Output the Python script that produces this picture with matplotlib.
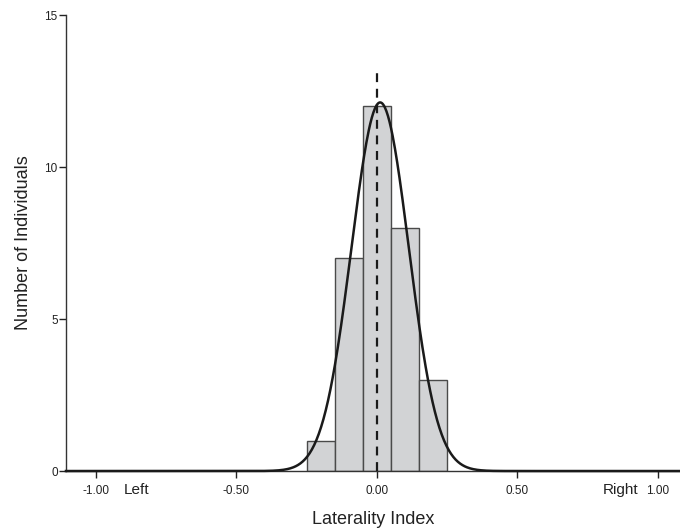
import numpy as np
import matplotlib
matplotlib.use("Agg")
import matplotlib.pyplot as plt

plt.rcParams['font.family'] = ['Liberation Sans', 'DejaVu Sans']

bin_edges = [-0.25, -0.15, -0.05, 0.05, 0.15, 0.25]
counts = [1, 7, 12, 8, 3]
curve_mean = 0.012
curve_sd = 0.102
x_ticks = [-1.0, -0.5, 0.0, 0.5, 1.0]
x_tick_labels = ["-1.00", "-0.50", "0.00", "0.50", "1.00"]
y_ticks = [0, 5, 10, 15]
side_labels = [("Left", -0.855), ("Right", 0.87)]
ref_line_top = 13.2

fig = plt.figure(figsize=(6.8, 5.29), dpi=100)
ax = fig.add_axes([0.097, 0.1096, 0.903, 0.862])

edges = np.array(bin_edges)
widths = np.diff(edges)
ax.bar(edges[:-1], counts, width=widths, align='edge', color='#d2d3d5',
       edgecolor='#4a4a4a', linewidth=1.0, zorder=2)

n = sum(counts)
bw = widths[0]
xs = np.linspace(-1.107, 1.08, 800)
ys = n * bw / (curve_sd * np.sqrt(2 * np.pi)) * np.exp(-0.5 * ((xs - curve_mean) / curve_sd) ** 2)
ax.plot(xs, ys, color='#1a1a1a', linewidth=1.8, zorder=4, clip_on=False)

ax.plot([0, 0], [0, ref_line_top], color='#1a1a1a', linestyle=(0, (4, 3)), linewidth=1.6, zorder=5)

ax.set_xlim(-1.107, 1.08)
ax.set_ylim(0, 15)
ax.set_xticks(x_ticks)
ax.set_xticklabels(x_tick_labels, fontsize=8.5)
ax.set_yticks(y_ticks)
ax.set_yticklabels([str(v) for v in y_ticks], fontsize=8.5)
ax.tick_params(axis='x', direction='out', length=5, width=1, pad=5, colors='#222222')
ax.tick_params(axis='y', direction='out', length=5, width=1, pad=1, colors='#222222')
for s in ['top', 'right']:
    ax.spines[s].set_visible(False)
for s in ['left', 'bottom']:
    ax.spines[s].set_color('#333333')
    ax.spines[s].set_linewidth(1.0)

for txt, xv in side_labels:
    ax.text(xv, -0.38, txt, ha='center', va='top', fontsize=11, color='#222222')

ax.set_xlabel("Laterality Index", fontsize=13, labelpad=10, color='#222222')
ax.set_ylabel("Number of Individuals", fontsize=13, labelpad=9, color='#222222')

fig.savefig("out.png", dpi=100)
